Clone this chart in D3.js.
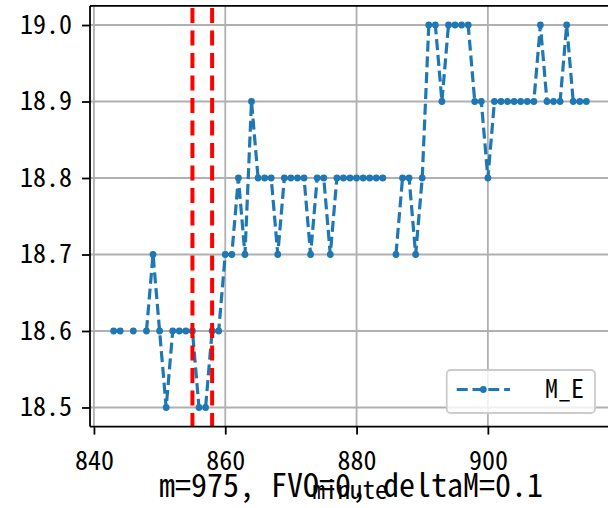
<!DOCTYPE html>
<html>
<head>
<meta charset="utf-8">
<script src="https://cdn.jsdelivr.net/npm/d3@7"></script>
<style>
  html, body { margin: 0; padding: 0; background: #fff; }
  svg { display: block; }
  text { font-family: "Noto Sans Mono CJK JP", "Noto Sans CJK JP", "DejaVu Sans Mono", monospace; fill: #000; }
</style>
</head>
<body>
<svg id="chart" width="608" height="508"></svg>
<script>
// ---- data ----
const minutes = d3.range(843, 916);
const meValues = [
  18.6, 18.6, null, 18.6, null, 18.6, 18.7, 18.6, 18.5, 18.6,   // 843-852
  18.6, 18.6, 18.6, 18.5, 18.5, 18.6, 18.6, 18.7, 18.7, 18.8,   // 853-862
  18.7, 18.9, 18.8, 18.8, 18.8, 18.7, 18.8, 18.8, 18.8, 18.8,   // 863-872
  18.7, 18.8, 18.8, 18.7, 18.8, 18.8, 18.8, 18.8, 18.8, 18.8,   // 873-882
  18.8, 18.8, null, 18.7, 18.8, 18.8, 18.7, 18.8, 19.0, 19.0,   // 883-892
  18.9, 19.0, 19.0, 19.0, 19.0, 18.9, 18.9, 18.8, 18.9, 18.9,   // 893-902
  18.9, 18.9, 18.9, 18.9, 18.9, 19.0, 18.9, 18.9, 18.9, 19.0,   // 903-912
  18.9, 18.9, 18.9                                              // 913-915
];
const vLines = [855, 858];
const xTicks = [840, 860, 880, 900];
const yTicks = [18.5, 18.6, 18.7, 18.8, 18.9, 19.0];
const seriesName = "M_E";
const xLabel = "minute";
const titleText = "m=975, FVO=0, deltaM=0.1";

// ---- layout ----
const svg = d3.select("#chart");
const L = 90, R = 610, T = 5.9, B = 426.6;
const x = d3.scaleLinear().domain([839.4, 918.6]).range([L, R]);
const y = d3.scaleLinear().domain([18.475, 19.025]).range([B, T]);
const blue = "#1f77b4";
const gridColor = "#b0b0b0";

// grid
const grid = svg.append("g");
grid.selectAll("line.gx").data(xTicks.concat([920])).join("line")
  .attr("x1", d => x(d)).attr("x2", d => x(d)).attr("y1", T).attr("y2", B)
  .attr("stroke", gridColor).attr("stroke-width", 1.8);
grid.selectAll("line.gy").data(yTicks).join("line")
  .attr("x1", L).attr("x2", R).attr("y1", d => y(d)).attr("y2", d => y(d))
  .attr("stroke", gridColor).attr("stroke-width", 1.8);

// clip
svg.append("clipPath").attr("id", "clip").append("rect")
  .attr("x", L).attr("y", T).attr("width", R - L).attr("height", B - T);

const plot = svg.append("g").attr("clip-path", "url(#clip)");

// series
const pts = minutes.map((m, i) => ({ m, v: meValues[i] }));
const line = d3.line().defined(d => d.v !== null).x(d => x(d.m)).y(d => y(d.v));
plot.append("path").datum(pts)
  .attr("d", line).attr("fill", "none").attr("stroke", blue)
  .attr("stroke-width", 3.2).attr("stroke-dasharray", "11,4.8");
plot.selectAll("circle.pt").data(pts.filter(d => d.v !== null)).join("circle")
  .attr("cx", d => x(d.m)).attr("cy", d => y(d.v)).attr("r", 3.4).attr("fill", blue);

// vertical red lines
plot.selectAll("line.vl").data(vLines).join("line")
  .attr("x1", d => x(d)).attr("x2", d => x(d)).attr("y1", B).attr("y2", T)
  .attr("stroke", "#ff0000").attr("stroke-width", 4)
  .attr("stroke-dasharray", "15,7.5").attr("stroke-dashoffset", 1.5);

// axes
const xAxis = svg.append("g").attr("transform", `translate(0,${B})`)
  .call(d3.axisBottom(x).tickValues(xTicks).tickSize(8).tickPadding(17).tickFormat(d3.format("d")));
const yAxis = svg.append("g").attr("transform", `translate(${L},0)`)
  .call(d3.axisLeft(y).tickValues(yTicks).tickSize(8).tickPadding(10).tickFormat(d3.format(".1f")));
[xAxis, yAxis].forEach(a => {
  a.select(".domain").remove();
  a.selectAll(".tick line").attr("stroke", "#000").attr("stroke-width", 1.8);
  a.selectAll(".tick text").attr("font-size", 26).attr("font-family", null);
});

// spines
svg.append("line").attr("x1", L).attr("x2", L).attr("y1", T).attr("y2", B).attr("stroke", "#000").attr("stroke-width", 1.8);
svg.append("line").attr("x1", L).attr("x2", R).attr("y1", B).attr("y2", B).attr("stroke", "#000").attr("stroke-width", 1.8);
svg.append("line").attr("x1", L).attr("x2", R).attr("y1", T).attr("y2", T).attr("stroke", "#000").attr("stroke-width", 1.8);
svg.append("line").attr("x1", R).attr("x2", R).attr("y1", T).attr("y2", B).attr("stroke", "#000").attr("stroke-width", 1.8);

// legend
const lg = svg.append("g");
lg.append("rect").attr("x", 446.7).attr("y", 370).attr("width", 148.3).attr("height", 43)
  .attr("rx", 4).attr("fill", "#fff").attr("fill-opacity", 0.8)
  .attr("stroke", "#cccccc").attr("stroke-width", 1.8);
lg.append("line").attr("x1", 456.7).attr("x2", 510).attr("y1", 389.5).attr("y2", 389.5)
  .attr("stroke", blue).attr("stroke-width", 3.2).attr("stroke-dasharray", "11,4.8");
lg.append("circle").attr("cx", 483.3).attr("cy", 389.5).attr("r", 3.4).attr("fill", blue);
lg.append("text").attr("x", 584).attr("y", 398).attr("text-anchor", "end")
  .attr("font-size", 26).text(seriesName);

// x label and title (overlapping, as in the reference)
svg.append("text").attr("x", (L + R) / 2).attr("y", 499).attr("text-anchor", "middle")
  .attr("font-size", 25).text(xLabel);
svg.append("text").attr("x", (L + R) / 2 + 1).attr("y", 497).attr("text-anchor", "middle")
  .attr("font-size", 32).text(titleText);
</script>
</body>
</html>
